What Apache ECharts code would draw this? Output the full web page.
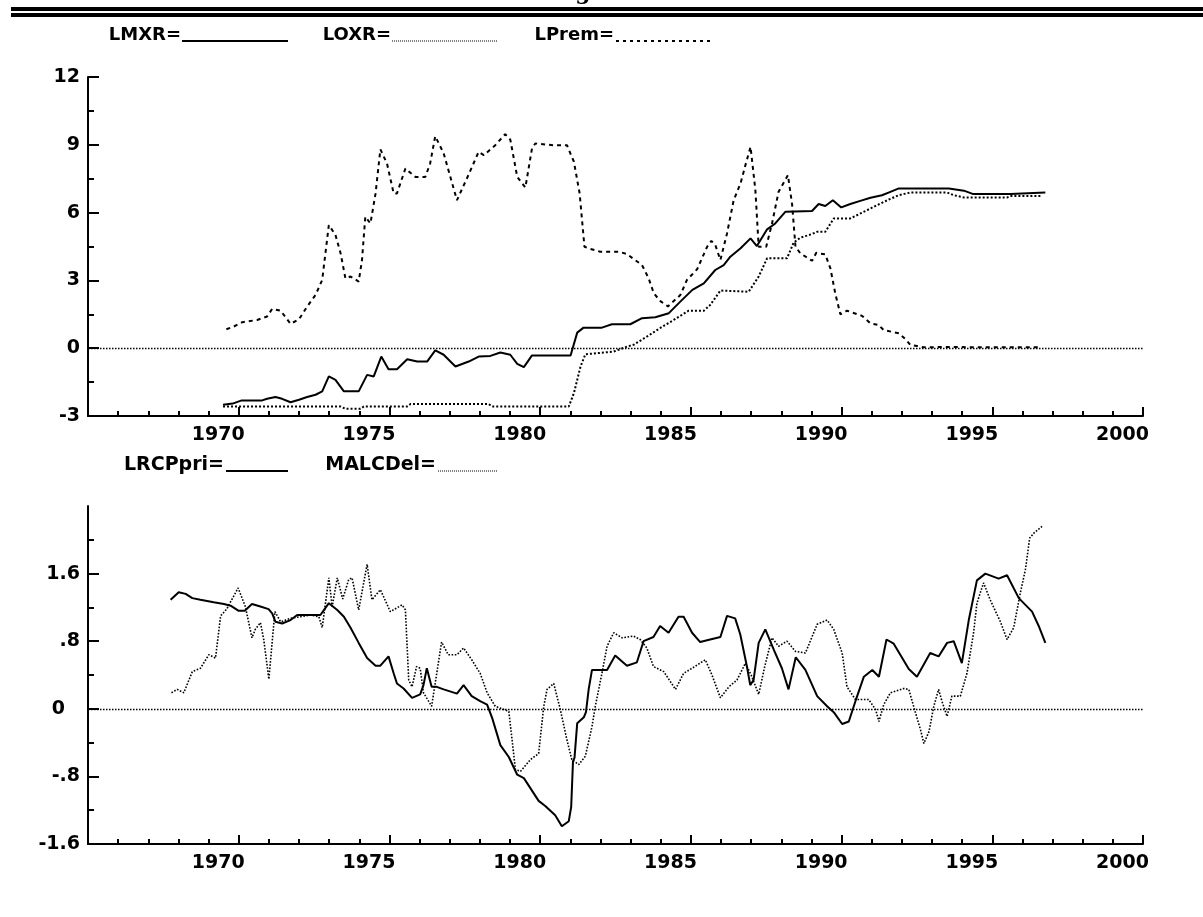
<!DOCTYPE html>
<html>
<head>
<meta charset="utf-8">
<script src="https://cdn.jsdelivr.net/npm/echarts@6.0.0/dist/echarts.min.js"></script>
<style>
  html, body { margin: 0; padding: 0; background: #fff; }
  #chart { width: 1203px; height: 917px; }
</style>
</head>
<body>
<div id="chart"></div>
<script>
// ---- tick labels ----
const yearTicks = [1970, 1975, 1980, 1985, 1990, 1995, 2000];
const topTicks = [-3, 0, 3, 6, 9, 12];
const bottomTicks = [-1.6, -0.8, 0, 0.8, 1.6];
const bottomTickLabels = ['-1.6', '-.8', '0', '.8', '1.6'];

// ---- upper panel: exchange rates and premium ----
const lmxrYears = [1969.48, 1969.8, 1970.1, 1970.78, 1970.94, 1971.22, 1971.44, 1971.72, 1972.0, 1972.27,
  1972.55, 1972.77, 1972.99, 1973.21, 1973.49, 1973.98, 1974.26, 1974.48, 1974.73, 1974.97,
  1975.25, 1975.59, 1975.92, 1976.25, 1976.52, 1976.8, 1977.19, 1977.63, 1977.96, 1978.35,
  1978.68, 1979.01, 1979.24, 1979.46, 1979.73, 1981.01, 1981.23, 1981.44, 1982.05, 1982.38,
  1982.99, 1983.38, 1983.82, 1984.27, 1984.65, 1985.05, 1985.43, 1985.81, 1986.09, 1986.31,
  1986.65, 1986.98, 1987.19, 1987.53, 1987.8, 1988.14, 1989.02, 1989.24, 1989.46, 1989.71,
  1989.99, 1990.29, 1990.62, 1990.96, 1991.34, 1991.62, 1991.9, 1993.56, 1994.06, 1994.37,
  1995.6, 1995.62, 1996.76];
const lmxrValues = [-2.50, -2.45, -2.31, -2.31, -2.24, -2.16, -2.24, -2.39, -2.28, -2.16,
  -2.06, -1.91, -1.25, -1.40, -1.91, -1.91, -1.18, -1.25, -0.37, -0.93,
  -0.93, -0.49, -0.59, -0.59, -0.10, -0.29, -0.81, -0.59, -0.37, -0.34,
  -0.19, -0.29, -0.69, -0.84, -0.32, -0.32, 0.69, 0.91, 0.91, 1.06,
  1.06, 1.33, 1.37, 1.55, 2.06, 2.58, 2.87, 3.46, 3.68, 4.05,
  4.42, 4.86, 4.52, 5.26, 5.52, 6.04, 6.07, 6.38, 6.29, 6.55,
  6.23, 6.38, 6.52, 6.66, 6.77, 6.92, 7.07, 7.07, 6.97, 6.82,
  6.82, 6.89, 6.89];

const loxrYears = [1969.48, 1973.38, 1973.54, 1974.04, 1974.15, 1975.59, 1975.7, 1978.29, 1978.41, 1980.95,
  1981.12, 1981.34, 1981.5, 1982.44, 1982.88, 1983.1, 1983.55, 1983.99, 1984.43, 1984.93,
  1985.43, 1985.64, 1985.98, 1986.92, 1987.25, 1987.53, 1988.19, 1988.41, 1988.63, 1989.02,
  1989.18, 1989.46, 1989.74, 1990.29, 1990.85, 1991.18, 1991.57, 1991.9, 1992.28, 1993.5,
  1993.72, 1994.06, 1995.49, 1995.6, 1996.65];
const loxrValues = [-2.58, -2.58, -2.68, -2.68, -2.58, -2.58, -2.47, -2.47, -2.58, -2.58,
  -1.99, -0.81, -0.27, -0.15, 0.07, 0.15, 0.52, 0.90, 1.25, 1.66,
  1.66, 1.91, 2.55, 2.50, 3.17, 3.98, 3.98, 4.67, 4.89, 5.05,
  5.15, 5.15, 5.74, 5.74, 6.11, 6.33, 6.58, 6.77, 6.89, 6.89,
  6.77, 6.67, 6.67, 6.73, 6.73];

const lpremYears = [1969.59, 1969.84, 1970.12, 1970.61, 1970.94, 1971.11, 1971.39, 1971.72, 1972.0, 1972.27,
  1972.55, 1972.77, 1972.99, 1973.21, 1973.38, 1973.54, 1973.71, 1973.98, 1974.09, 1974.2,
  1974.37, 1974.54, 1974.7, 1974.92, 1975.14, 1975.25, 1975.53, 1975.86, 1976.19, 1976.35,
  1976.52, 1976.8, 1977.24, 1977.57, 1977.96, 1978.13, 1978.51, 1978.84, 1979.01, 1979.24,
  1979.51, 1979.73, 1979.84, 1980.45, 1980.89, 1981.12, 1981.31, 1981.47, 1981.6, 1981.99,
  1982.6, 1982.88, 1983.1, 1983.38, 1983.6, 1983.77, 1983.99, 1984.24, 1984.65, 1984.87,
  1985.21, 1985.54, 1985.68, 1985.81, 1985.98, 1986.2, 1986.42, 1986.65, 1986.81, 1986.98,
  1987.14, 1987.25, 1987.5, 1987.69, 1987.91, 1988.22, 1988.36, 1988.47, 1988.63, 1989.02,
  1989.16, 1989.46, 1989.63, 1989.79, 1989.96, 1990.18, 1990.68, 1990.96, 1991.23, 1991.4,
  1991.9, 1992.12, 1992.28, 1992.5, 1992.72, 1993.94, 1994.15, 1996.58];
const lpremValues = [0.84, 0.96, 1.15, 1.25, 1.40, 1.74, 1.66, 1.08, 1.28, 1.84,
  2.36, 3.02, 5.45, 5.01, 4.20, 3.09, 3.17, 2.95, 3.90, 5.82,
  5.52, 6.85, 8.80, 8.17, 6.85, 6.85, 7.95, 7.58, 7.58, 8.17,
  9.38, 8.62, 6.55, 7.51, 8.69, 8.54, 8.98, 9.47, 9.23, 7.58,
  7.11, 8.84, 9.06, 8.98, 8.98, 8.25, 6.85, 4.49, 4.42, 4.27,
  4.27, 4.17, 3.95, 3.68, 3.09, 2.43, 2.08, 1.85, 2.35, 3.02,
  3.50, 4.49, 4.75, 4.57, 3.90, 5.08, 6.55, 7.30, 8.10, 8.91,
  7.00, 4.49, 4.49, 5.50, 6.92, 7.66, 6.35, 4.50, 4.20, 3.87,
  4.22, 4.15, 3.53, 2.43, 1.50, 1.66, 1.43, 1.10, 1.03, 0.80,
  0.66, 0.40, 0.15, 0.10, 0.04, 0.06, 0.04, 0.04];

// ---- lower panel: relative price and moving average ----
const lrcpYears = [1967.74, 1968.01, 1968.24, 1968.46, 1968.73, 1969.17, 1969.51, 1969.73, 1970.0, 1970.2,
  1970.44, 1970.72, 1970.99, 1971.11, 1971.22, 1971.44, 1971.72, 1971.94, 1972.71, 1972.77,
  1972.99, 1973.27, 1973.49, 1973.71, 1973.98, 1974.26, 1974.54, 1974.7, 1974.97, 1975.14,
  1975.25, 1975.47, 1975.75, 1976.02, 1976.13, 1976.24, 1976.4, 1976.57, 1976.8, 1977.24,
  1977.46, 1977.73, 1978.01, 1978.24, 1978.41, 1978.68, 1978.96, 1979.24, 1979.46, 1979.95,
  1980.17, 1980.5, 1980.72, 1980.95, 1981.03, 1981.09, 1981.14, 1981.23, 1981.45, 1981.52,
  1981.61, 1981.72, 1982.22, 1982.49, 1982.88, 1983.21, 1983.43, 1983.76, 1983.98, 1984.26,
  1984.59, 1984.76, 1985.04, 1985.31, 1985.64, 1985.98, 1986.2, 1986.47, 1986.64, 1986.86,
  1986.97, 1987.08, 1987.25, 1987.47, 1987.75, 1988.02, 1988.24, 1988.48, 1988.8, 1989.19,
  1989.52, 1989.74, 1990.02, 1990.24, 1990.46, 1990.74, 1991.02, 1991.24, 1991.49, 1991.73,
  1992.23, 1992.5, 1992.94, 1993.22, 1993.5, 1993.72, 1993.99, 1994.22, 1994.49, 1994.77,
  1995.21, 1995.49, 1995.88, 1996.32, 1996.54, 1996.76];
const lrcpValues = [1.29, 1.38, 1.36, 1.31, 1.29, 1.26, 1.24, 1.22, 1.16, 1.16,
  1.24, 1.21, 1.18, 1.13, 1.03, 1.01, 1.05, 1.11, 1.11, 1.09,
  1.25, 1.17, 1.09, 0.96, 0.78, 0.60, 0.51, 0.51, 0.62, 0.42,
  0.30, 0.24, 0.13, 0.17, 0.28, 0.48, 0.26, 0.26, 0.23, 0.18,
  0.28, 0.15, 0.09, 0.05, -0.11, -0.43, -0.57, -0.78, -0.82, -1.09,
  -1.15, -1.26, -1.39, -1.33, -1.16, -0.62, -0.58, -0.17, -0.10, -0.04,
  0.23, 0.46, 0.46, 0.63, 0.51, 0.55, 0.80, 0.85, 0.98, 0.90,
  1.09, 1.09, 0.90, 0.79, 0.82, 0.85, 1.10, 1.07, 0.88, 0.50,
  0.28, 0.34, 0.78, 0.94, 0.70, 0.48, 0.23, 0.61, 0.46, 0.15,
  0.03, -0.04, -0.18, -0.15, 0.09, 0.38, 0.46, 0.38, 0.82, 0.77,
  0.47, 0.38, 0.66, 0.62, 0.78, 0.80, 0.54, 1.05, 1.52, 1.60,
  1.54, 1.58, 1.31, 1.15, 0.98, 0.78];

const malcYears = [1967.77, 1967.96, 1968.18, 1968.46, 1968.73, 1969.01, 1969.23, 1969.4, 1969.6, 1969.98,
  1970.22, 1970.44, 1970.55, 1970.72, 1970.83, 1971.0, 1971.2, 1971.39, 1971.72, 1972.05,
  1972.38, 1972.66, 1972.77, 1972.99, 1973.1, 1973.27, 1973.45, 1973.65, 1973.76, 1973.98,
  1974.26, 1974.42, 1974.7, 1975.03, 1975.42, 1975.53, 1975.64, 1975.75, 1975.9, 1976.02,
  1976.13, 1976.4, 1976.57, 1976.73, 1976.95, 1977.24, 1977.46, 1977.73, 1978.01, 1978.24,
  1978.51, 1978.96, 1979.07, 1979.18, 1979.35, 1979.68, 1979.95, 1980.12, 1980.23, 1980.45,
  1980.67, 1980.89, 1981.05, 1981.28, 1981.5, 1981.72, 1981.83, 1982.05, 1982.22, 1982.44,
  1982.72, 1983.1, 1983.32, 1983.54, 1983.76, 1984.1, 1984.49, 1984.76, 1985.04, 1985.48,
  1985.7, 1985.98, 1986.26, 1986.53, 1986.81, 1987.0, 1987.25, 1987.45, 1987.69, 1987.91,
  1988.19, 1988.47, 1988.8, 1989.19, 1989.52, 1989.74, 1990.02, 1990.18, 1990.46, 1990.9,
  1991.13, 1991.24, 1991.4, 1991.62, 1992.06, 1992.23, 1992.39, 1992.62, 1992.73, 1992.9,
  1993.06, 1993.22, 1993.33, 1993.5, 1993.66, 1993.94, 1994.16, 1994.38, 1994.49, 1994.71,
  1994.93, 1995.27, 1995.49, 1995.71, 1995.93, 1996.1, 1996.24, 1996.38, 1996.65];
const malcValues = [0.19, 0.23, 0.19, 0.44, 0.48, 0.64, 0.60, 1.10, 1.18, 1.43,
  1.21, 0.84, 0.94, 1.02, 0.82, 0.35, 1.15, 1.03, 1.07, 1.09,
  1.11, 1.09, 0.96, 1.55, 1.21, 1.55, 1.30, 1.53, 1.55, 1.17,
  1.71, 1.29, 1.41, 1.15, 1.23, 1.17, 0.34, 0.26, 0.50, 0.48,
  0.19, 0.03, 0.42, 0.79, 0.64, 0.64, 0.72, 0.58, 0.42, 0.19,
  0.03, -0.03, -0.37, -0.72, -0.74, -0.60, -0.53, 0.03, 0.23, 0.30,
  -0.01, -0.37, -0.60, -0.66, -0.56, -0.21, 0.03, 0.42, 0.74, 0.90,
  0.84, 0.86, 0.82, 0.72, 0.50, 0.44, 0.23, 0.42, 0.48, 0.58,
  0.40, 0.13, 0.26, 0.34, 0.54, 0.40, 0.17, 0.50, 0.84, 0.74,
  0.80, 0.68, 0.66, 1.00, 1.05, 0.94, 0.66, 0.26, 0.11, 0.11,
  -0.01, -0.15, 0.05, 0.19, 0.24, 0.23, 0.03, -0.25, -0.41, -0.27,
  0.03, 0.23, 0.09, -0.09, 0.15, 0.15, 0.42, 0.90, 1.25, 1.49,
  1.29, 1.03, 0.82, 0.96, 1.37, 1.65, 2.02, 2.08, 2.16];

function pairs(xs, ys) { return xs.map((x, i) => [x, ys[i]]); }

const INK = '#000';
const LABEL_FONT = { fontFamily: 'DejaVu Sans', fontWeight: 'bold', fontSize: 19, color: INK };

function yearAxis(gridIndex) {
  return {
    type: 'value', gridIndex, min: 1965, max: 2000, interval: 5,
    axisLine: { show: true, onZero: false, lineStyle: { color: INK, width: 2 } },
    axisTick: { show: true, inside: true, length: 9, lineStyle: { color: INK, width: 2 } },
    minorTick: { show: true, splitNumber: 5, length: 5, lineStyle: { color: INK, width: 2 } },
    splitLine: { show: false },
    axisLabel: Object.assign({
      customValues: yearTicks, margin: 10, align: 'right', padding: [0, -6, 0, 0],
      formatter: v => String(Math.round(v))
    }, LABEL_FONT)
  };
}

const zeroLine = {
  silent: true, symbol: 'none', label: { show: false },
  lineStyle: { color: INK, width: 1.3, type: [1.5, 1.5] },
  data: [{ yAxis: 0 }]
};

const chart = echarts.init(document.getElementById('chart'), null, { renderer: 'canvas' });

chart.setOption({
  animation: false,
  backgroundColor: '#fff',
  grid: [
    { left: 88, right: 60, top: 77, height: 339 },
    { left: 88, right: 60, top: 506, height: 338 }
  ],
  xAxis: [yearAxis(0), yearAxis(1)],
  yAxis: [
    {
      type: 'value', gridIndex: 0, min: -3, max: 12, interval: 3,
      axisLine: { show: true, onZero: false, lineStyle: { color: INK, width: 2 } },
      axisTick: { show: true, inside: true, length: 11, lineStyle: { color: INK, width: 2 } },
      minorTick: { show: true, splitNumber: 2, length: 6, lineStyle: { color: INK, width: 2 } },
      splitLine: { show: false },
      axisLabel: Object.assign({ customValues: topTicks, margin: 8 }, LABEL_FONT)
    },
    {
      type: 'value', gridIndex: 1, min: -1.6, max: 2.4, interval: 0.8,
      axisLine: { show: true, onZero: false, lineStyle: { color: INK, width: 2 } },
      axisTick: { show: true, inside: true, length: 11, customValues: bottomTicks, lineStyle: { color: INK, width: 2 } },
      minorTick: { show: true, splitNumber: 2, length: 6, lineStyle: { color: INK, width: 2 } },
      splitLine: { show: false },
      axisLabel: Object.assign({
        customValues: bottomTicks, margin: 8,
        formatter: v => {
          const i = bottomTicks.findIndex(t => Math.abs(t - v) < 1e-6);
          const s = i >= 0 ? bottomTickLabels[i] : '';
          return s === '0' ? '{z|0}' : s;
        },
        rich: { z: { fontFamily: 'DejaVu Sans', fontWeight: 'bold', fontSize: 19, color: INK, padding: [0, 15, 0, 0] } }
      }, LABEL_FONT)
    }
  ],
  series: [
    {
      name: 'LMXR', type: 'line', xAxisIndex: 0, yAxisIndex: 0, data: pairs(lmxrYears, lmxrValues),
      showSymbol: false, symbol: 'none', lineStyle: { color: INK, width: 2 }, markLine: zeroLine
    },
    {
      name: 'LOXR', type: 'line', xAxisIndex: 0, yAxisIndex: 0, data: pairs(loxrYears, loxrValues),
      showSymbol: false, symbol: 'none', lineStyle: { color: INK, width: 2, type: [2, 2] }
    },
    {
      name: 'LPrem', type: 'line', xAxisIndex: 0, yAxisIndex: 0, data: pairs(lpremYears, lpremValues),
      showSymbol: false, symbol: 'none', lineStyle: { color: INK, width: 2, type: [4, 4] }
    },
    {
      name: 'LRCPpri', type: 'line', xAxisIndex: 1, yAxisIndex: 1, data: pairs(lrcpYears, lrcpValues),
      showSymbol: false, symbol: 'none', lineStyle: { color: INK, width: 2 }, markLine: zeroLine
    },
    {
      name: 'MALCDel', type: 'line', xAxisIndex: 1, yAxisIndex: 1, data: pairs(malcYears, malcValues),
      showSymbol: false, symbol: 'none', lineStyle: { color: INK, width: 1.6, type: [1.6, 1.6] }
    }
  ],
  graphic: [
    // page rule and the tail of the heading above it
    { type: 'text', x: 583, y: 4, style: { text: 'g', font: 'bold 22px "DejaVu Serif"', fill: INK, align: 'center', verticalAlign: 'bottom', textAlign: 'center', textVerticalAlign: 'bottom' } },
    { type: 'rect', shape: { x: 11, y: 7, width: 1192, height: 4 }, style: { fill: INK } },
    { type: 'rect', shape: { x: 11, y: 13, width: 1192, height: 4 }, style: { fill: INK } },

    // upper key
    { type: 'text', x: 181, y: 35, style: { text: 'LMXR=', font: 'bold 18px "DejaVu Sans"', fill: INK, align: 'right', verticalAlign: 'middle', textAlign: 'right', textVerticalAlign: 'middle' } },
    { type: 'line', shape: { x1: 182, y1: 41, x2: 288, y2: 41 }, style: { stroke: INK, lineWidth: 2 } },
    { type: 'text', x: 391, y: 35, style: { text: 'LOXR=', font: 'bold 18px "DejaVu Sans"', fill: INK, align: 'right', verticalAlign: 'middle', textAlign: 'right', textVerticalAlign: 'middle' } },
    { type: 'line', shape: { x1: 392, y1: 41, x2: 497, y2: 41 }, style: { stroke: INK, lineWidth: 1, lineDash: [1, 1] } },
    { type: 'text', x: 614, y: 35, style: { text: 'LPrem=', font: 'bold 18px "DejaVu Sans"', fill: INK, align: 'right', verticalAlign: 'middle', textAlign: 'right', textVerticalAlign: 'middle' } },
    { type: 'line', shape: { x1: 616, y1: 41, x2: 710, y2: 41 }, style: { stroke: INK, lineWidth: 2, lineDash: [3, 4] } },

    // lower key
    { type: 'text', x: 224, y: 465, style: { text: 'LRCPpri=', font: 'bold 19px "DejaVu Sans"', fill: INK, align: 'right', verticalAlign: 'middle', textAlign: 'right', textVerticalAlign: 'middle' } },
    { type: 'line', shape: { x1: 226, y1: 471, x2: 288, y2: 471 }, style: { stroke: INK, lineWidth: 2 } },
    { type: 'text', x: 436, y: 465, style: { text: 'MALCDel=', font: 'bold 19px "DejaVu Sans"', fill: INK, align: 'right', verticalAlign: 'middle', textAlign: 'right', textVerticalAlign: 'middle' } },
    { type: 'line', shape: { x1: 438, y1: 471, x2: 498, y2: 471 }, style: { stroke: INK, lineWidth: 1, lineDash: [1, 1] } }
  ]
});
</script>
</body>
</html>
